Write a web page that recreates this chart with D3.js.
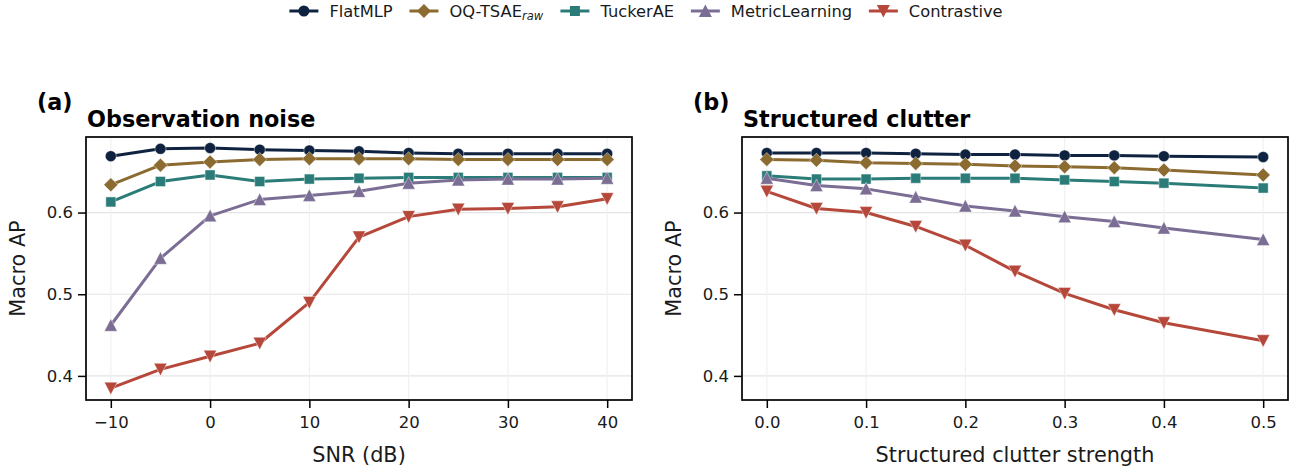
<!DOCTYPE html>
<html>
<head>
<meta charset="utf-8">
<script src="https://cdn.jsdelivr.net/npm/d3@7"></script>
<style>
  body { margin: 0; background: #ffffff; }
  svg { font-family: "DejaVu Sans", sans-serif; }
</style>
</head>
<body>
<svg id="chart" width="1298" height="470"></svg>
<script>

// data
let seriesNames = ["FlatMLP", "OQ-TSAE", "TuckerAE", "MetricLearning", "Contrastive"]
let seriesColors = ["#0f2340", "#8b6b30", "#2b7c78", "#7b6d94", "#b5483a"]
let seriesMarkers = ["circle", "diamond", "square", "triUp", "triDown"]

let snrValues = [-10, -5, 0, 5, 10, 15, 20, 25, 30, 35, 40]
let noiseFlatMLP = [0.669, 0.678, 0.679, 0.677, 0.676, 0.675, 0.673, 0.672, 0.672, 0.672, 0.672]
let noiseOQTSAE = [0.634, 0.658, 0.662, 0.665, 0.666, 0.666, 0.666, 0.665, 0.665, 0.665, 0.665]
let noiseTuckerAE = [0.613, 0.638, 0.646, 0.638, 0.641, 0.642, 0.643, 0.643, 0.643, 0.643, 0.643]
let noiseMetric = [0.462, 0.544, 0.596, 0.616, 0.621, 0.626, 0.636, 0.640, 0.641, 0.641, 0.642]
let noiseContrastive = [0.385, 0.408, 0.424, 0.440, 0.490, 0.570, 0.595, 0.604, 0.605, 0.607, 0.617]

let clutterValues = [0.0, 0.05, 0.1, 0.15, 0.2, 0.25, 0.3, 0.35, 0.4, 0.5]
let clutterFlatMLP = [0.673, 0.673, 0.673, 0.672, 0.671, 0.671, 0.670, 0.670, 0.669, 0.668]
let clutterOQTSAE = [0.665, 0.664, 0.661, 0.660, 0.659, 0.657, 0.656, 0.655, 0.652, 0.646]
let clutterTuckerAE = [0.645, 0.641, 0.641, 0.642, 0.642, 0.642, 0.640, 0.638, 0.636, 0.630]
let clutterMetric = [0.642, 0.633, 0.629, 0.619, 0.608, 0.602, 0.595, 0.589, 0.581, 0.567]
let clutterContrastive = [0.626, 0.605, 0.600, 0.583, 0.560, 0.528, 0.501, 0.481, 0.465, 0.443]

let yTicks = [0.4, 0.5, 0.6]
let snrTicks = [-10, 0, 10, 20, 30, 40]
let clutterTicks = [0.0, 0.1, 0.2, 0.3, 0.4, 0.5]

let svg = d3.select("#chart")

function markerPath(kind) {
    let p = d3.path()
    if (kind == "circle") {
        p.arc(0, 0, 5.5, 0, 2 * Math.PI)
    } else if (kind == "diamond") {
        p.moveTo(0, -7); p.lineTo(7, 0); p.lineTo(0, 7); p.lineTo(-7, 0); p.closePath()
    } else if (kind == "square") {
        p.rect(-5, -5, 10, 10)
    } else if (kind == "triUp") {
        p.moveTo(0, -6.5); p.lineTo(6.5, 6); p.lineTo(-6.5, 6); p.closePath()
    } else {
        p.moveTo(0, 6.5); p.lineTo(6.5, -6); p.lineTo(-6.5, -6); p.closePath()
    }
    return p.toString()
}

function drawPanel(opts) {
    let left = opts.left, top = 137, w = 546, h = 263
    let g = svg.append("g").attr("transform", "translate(" + left + "," + top + ")")

    let x = d3.scaleLinear().domain(opts.xDomain).range([0, w])
    let y = d3.scaleLinear().domain([0.3705, 0.6925]).range([h, 0])

    // grid
    g.selectAll(".hgrid").data(yTicks).enter().append("line")
        .attr("x1", 0).attr("x2", w)
        .attr("y1", d => y(d)).attr("y2", d => y(d))
        .attr("stroke", "#e4e4e4").attr("stroke-width", 1.2)
    g.selectAll(".vgrid").data(opts.xTicks).enter().append("line")
        .attr("y1", 0).attr("y2", h)
        .attr("x1", d => x(d)).attr("x2", d => x(d))
        .attr("stroke", "#f1f1f1").attr("stroke-width", 1.2)

    // series
    let line = d3.line().x(d => x(d[0])).y(d => y(d[1]))
    opts.series.forEach(function (vals, i) {
        let pts = opts.xValues.map((v, j) => [v, vals[j]])
        g.append("path")
            .attr("d", line(pts))
            .attr("fill", "none")
            .attr("stroke", seriesColors[i])
            .attr("stroke-width", 3)
            .attr("stroke-linejoin", "round")
        g.selectAll(".m" + i).data(pts).enter().append("path")
            .attr("d", markerPath(seriesMarkers[i]))
            .attr("transform", d => "translate(" + x(d[0]) + "," + y(d[1]) + ")")
            .attr("fill", seriesColors[i])
            .attr("stroke", "#ffffff").attr("stroke-width", 0.6).attr("stroke-opacity", 0.7)
    })

    // frame
    g.append("rect").attr("width", w).attr("height", h)
        .attr("fill", "none").attr("stroke", "#000000").attr("stroke-width", 1.7)

    // axes
    let xAxis = d3.axisBottom(x).tickValues(opts.xTicks).tickSize(8).tickPadding(8).tickFormat(opts.xFormat)
    let gx = g.append("g").attr("transform", "translate(0," + h + ")").call(xAxis)
    let yAxis = d3.axisLeft(y).tickValues(yTicks).tickSize(8).tickPadding(5).tickFormat(d3.format(".1f"))
    let gy = g.append("g").call(yAxis)
    ;[gx, gy].forEach(function (a) {
        a.select(".domain").remove()
        a.selectAll(".tick line").attr("stroke", "#000").attr("stroke-width", 1.5)
        a.selectAll(".tick text").attr("fill", "#1a1a1a").style("font-size", "16.5px")
            .style("font-family", "DejaVu Sans")
    })

    g.append("text").attr("x", w / 2).attr("y", h + 62)
        .attr("text-anchor", "middle").style("font-size", "20.8px").attr("fill", "#1a1a1a")
        .text(opts.xLabel)
    g.append("text")
        .attr("transform", "translate(" + (-61) + "," + (h / 2) + ") rotate(-90)")
        .attr("text-anchor", "middle").style("font-size", "20.8px").attr("fill", "#1a1a1a")
        .text("Macro AP")

    g.append("text").attr("x", 1).attr("y", -10)
        .style("font-size", "22.3px").style("font-weight", "bold")
        .text(opts.title)
    g.append("text").attr("x", -49).attr("y", -27)
        .style("font-size", "22.3px").style("font-weight", "bold")
        .text(opts.tag)
}

drawPanel({
    left: 86, tag: "(a)", title: "Observation noise", xLabel: "SNR (dB)",
    xDomain: [-12.5, 42.5], xTicks: snrTicks, xValues: snrValues, xFormat: d3.format("d"),
    series: [noiseFlatMLP, noiseOQTSAE, noiseTuckerAE, noiseMetric, noiseContrastive]
})

drawPanel({
    left: 742, tag: "(b)", title: "Structured clutter", xLabel: "Structured clutter strength",
    xDomain: [-0.025, 0.525], xTicks: clutterTicks, xValues: clutterValues, xFormat: d3.format(".1f"),
    series: [clutterFlatMLP, clutterOQTSAE, clutterTuckerAE, clutterMetric, clutterContrastive]
})

// legend across the top
let legend = svg.append("g")
let items = legend.selectAll("g").data(seriesNames).enter().append("g")
items.append("line").attr("x1", 0).attr("x2", 29).attr("y1", 0).attr("y2", 0)
    .attr("stroke", (d, i) => seriesColors[i]).attr("stroke-width", 3)
items.append("path").attr("d", (d, i) => markerPath(seriesMarkers[i]))
    .attr("transform", "translate(14.5,0)")
    .attr("fill", (d, i) => seriesColors[i])
let labels = items.append("text").attr("x", 40).attr("y", 6)
    .style("font-size", "16.3px").attr("fill", "#1a1a1a")
labels.each(function (d) {
    let t = d3.select(this)
    if (d == "OQ-TSAE") {
        t.append("tspan").text("OQ-TSAE")
        t.append("tspan").text("raw").style("font-style", "italic")
            .style("font-size", "11.5px").attr("dy", 3)
    } else {
        t.text(d)
    }
})
let offs = [], pos = 0
items.each(function () {
    offs.push(pos)
    pos += this.getBBox().width + 16.7
})
let total = pos - 16.7
let start = 646 - total / 2
items.attr("transform", (d, i) => "translate(" + (start + offs[i]) + ",11)")

</script>
</body>
</html>
